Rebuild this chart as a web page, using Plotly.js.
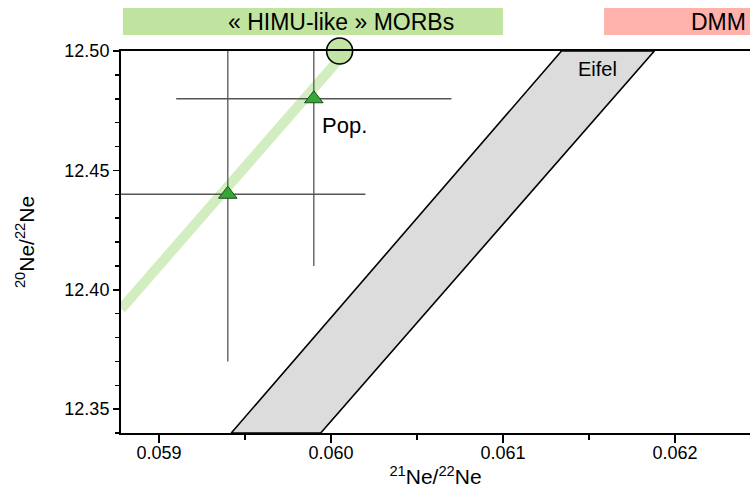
<!DOCTYPE html>
<html>
<head>
<meta charset="utf-8">
<script src="https://cdn.plot.ly/plotly-3.0.1.min.js"></script>
<style>html,body{margin:0;padding:0;background:#fff;}#chart{width:750px;height:490px;}</style>
</head>
<body>
<div id="chart"></div>
<script>
// Sample measurements (21Ne/22Ne vs 20Ne/22Ne) with 1-sigma errors
const sampleX = [0.0594, 0.0599];
const sampleY = [12.44, 12.48];
const sampleXErr = [0.0008, 0.0008];
const sampleYErr = [0.07, 0.07];
// HIMU-like MORB end-member
const endX = [0.06005];
const endY = [12.50];
// mixing trend (light green band)
const trendX = [0.05878, 0.06004];
const trendY = [12.392, 12.496];
// Eifel field (parallelogram)
const eifelX = [0.05942, 0.06134, 0.06188, 0.05994, 0.05942];
const eifelY = [12.34, 12.50, 12.50, 12.34, 12.34];
// axis ticks
const xTicks = [0.059, 0.060, 0.061, 0.062];
const yTicks = [12.35, 12.40, 12.45, 12.50];

const FONT = 'Liberation Sans, Arial, Helvetica, sans-serif';

const traces = [
  {x: eifelX, y: eifelY, mode: 'lines', fill: 'toself', fillcolor: '#dcdcdc',
   line: {color: '#000', width: 1.6}, hoverinfo: 'skip', showlegend: false},
  {x: trendX, y: trendY, mode: 'lines', line: {color: '#d2eec0', width: 10},
   hoverinfo: 'skip', showlegend: false},
  {x: sampleX, y: sampleY, mode: 'markers', marker: {size: 0.1, opacity: 0},
   error_x: {type: 'data', array: sampleXErr, color: '#555', thickness: 1.3, width: 0},
   error_y: {type: 'data', array: sampleYErr, color: '#555', thickness: 1.3, width: 0},
   showlegend: false},
  {x: sampleX, y: sampleY, mode: 'markers',
   marker: {symbol: 'triangle-up', size: 16, color: '#33a933', line: {color: '#1d4d1d', width: 1}},
   showlegend: false},
  {x: endX, y: endY, mode: 'markers', cliponaxis: false,
   marker: {symbol: 'circle', size: 26, color: '#c2e5a3', line: {color: '#000', width: 1.6}},
   showlegend: false}
];

const layout = {
  width: 750, height: 490,
  margin: {l: 121, r: 0, t: 51, b: 57},
  paper_bgcolor: '#fff', plot_bgcolor: '#fff',
  font: {family: FONT, size: 18, color: '#000'},
  showlegend: false,
  xaxis: {
    range: [0.058779, 0.062436], showgrid: false, zeroline: false,
    showline: true, linecolor: '#000', linewidth: 2, mirror: true,
    ticks: 'outside', ticklen: 8, tickwidth: 1.5, tickcolor: '#000',
    tickvals: xTicks, tickformat: '.3f', tickfont: {size: 18},
    ticklabelstandoff: -6,
    minor: {dtick: 0.0005, tick0: 0.059, ticks: 'outside', ticklen: 5, tickwidth: 1.5, tickcolor: '#000', showgrid: false},
    title: {text: '<sup>21</sup>Ne/<sup>22</sup>Ne', font: {size: 21}, standoff: 8}
  },
  yaxis: {
    range: [12.34, 12.50], showgrid: false, zeroline: false,
    showline: true, linecolor: '#000', linewidth: 2, mirror: false,
    ticks: 'outside', ticklen: 6, tickwidth: 1.5, tickcolor: '#000',
    tickvals: yTicks, tickformat: '.2f', tickfont: {size: 18},
    minor: {dtick: 0.01, tick0: 12.35, ticks: 'outside', ticklen: 4, tickwidth: 1.5, tickcolor: '#000', showgrid: false},
    title: {text: '<sup>20</sup>Ne/<sup>22</sup>Ne', font: {size: 21}, standoff: 24}
  },
  shapes: [
    {type: 'rect', xref: 'paper', yref: 'paper', x0: 0.003, x1: 0.6073, y0: 1.0419, y1: 1.1126,
     fillcolor: '#c0e4a0', line: {width: 0}, layer: 'below'},
    {type: 'rect', xref: 'paper', yref: 'paper', x0: 0.768, x1: 1.0, y0: 1.0419, y1: 1.1126,
     fillcolor: '#ffb2ac', line: {width: 0}, layer: 'below'}
  ],
  annotations: [
    {xref: 'paper', yref: 'paper', x: 0.35, y: 1.0772, text: '« HIMU-like » MORBs',
     showarrow: false, xanchor: 'center', yanchor: 'middle', font: {size: 23}},
    {xref: 'paper', yref: 'paper', x: 1.0, y: 1.0772, text: 'DMM', xshift: -2,
     showarrow: false, xanchor: 'right', yanchor: 'middle', font: {size: 23}},
    {x: 0.061547, y: 12.4925, text: 'Eifel', showarrow: false, xanchor: 'center', yanchor: 'middle', font: {size: 20}},
    {x: 0.060076, y: 12.469, text: 'Pop.', showarrow: false, xanchor: 'center', yanchor: 'middle', font: {size: 22}}
  ]
};

Plotly.newPlot('chart', traces, layout, {displayModeBar: false, staticPlot: true});
</script>
</body>
</html>
